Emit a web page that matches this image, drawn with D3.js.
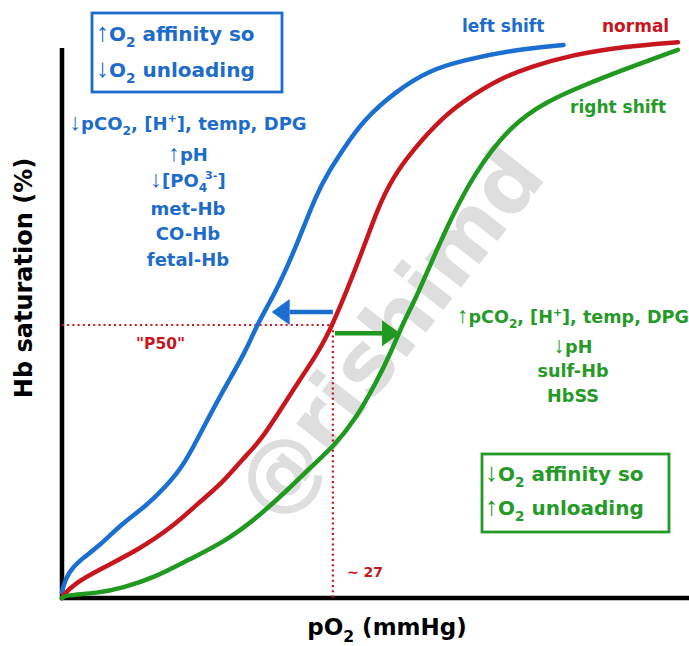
<!DOCTYPE html>
<html><head><meta charset="utf-8">
<script src="https://cdn.jsdelivr.net/npm/d3@7"></script>
<style>body{margin:0;background:#fff}svg{display:block}</style>
</head><body>
<svg id="c" width="689" height="646"></svg>
<script>
// ---- data (pO2 mmHg, Hb saturation %) ----
const leftShiftPO2 = [0,0.1,0.6,1.8,3.6,6.0,8.3,10.3,12.0,13.3,15.8,18.4,19.4,21.3,23.2,25.4,26.7,28.0,30.0,33.4,36.7,40.0,45.0,50.0];
const leftShiftSat = [1,2.0,4.6,7.0,9.3,13.7,16.7,20.3,24.0,28.4,37.2,45.4,50,56,63.7,74.2,78.4,82.1,87.5,93.0,96.7,98.5,100.4,101.3];
const normalPO2 = [0,0.1,1.3,3.6,7.6,11.0,13.6,16.0,17.9,19.9,22.7,25.7,27.0,30.0,31.4,33.0,35.0,37.9,40.5,43.4,46.7,50.9,55.9,61.4];
const normalSat = [0,0.5,2.7,5.1,8.8,13.0,17.4,21.1,25.3,28.9,37.2,45.4,50,63.7,71.1,77.1,82.1,88.0,91.6,94.9,97.3,99.5,101.0,101.8];
const rightShiftPO2 = [0,0.3,3.6,6.0,9.3,12.6,16.0,19.2,22.5,24.7,27.2,29.2,31.2,32.9,33.9,35.2,36.7,38.7,41.0,44.7,48.4,51.6,55.9,61.4];
const rightShiftSat = [0,0.5,0.9,1.8,3.8,7.0,10.1,14.3,19.8,23.8,28.0,32.6,39.0,45.4,50.0,54.6,61.0,69.2,77.5,86.6,91.0,93.6,96.7,100.4];
const curveNames = ["left shift","normal","right shift"];
const p50PO2 = 27, p50Sat = 50;
const leftArrowPO2 = [27.0, 20.9], leftArrowSat = 52.4;
const rightArrowPO2 = [27.2, 33.7], rightArrowSat = 48.5;
const leftFactors = ["↓pCO2, [H+], temp, DPG","↑pH","↓[PO43-]","met-Hb","CO-Hb","fetal-Hb"];
const rightFactors = ["↑pCO2, [H+], temp, DPG","↓pH","sulf-Hb","HbSS"];

const BLUE="#1b6fd0", RED="#c8161f", GREEN="#1f991f", TBLUE="#1d6ccb", TGREEN="#259a27";
const FONT="'DejaVu Sans', sans-serif";

const svg=d3.select("#c");
const x=d3.scaleLinear().domain([0,62.5]).range([62,689]);
const y=d3.scaleLinear().domain([0,100]).range([598,52]);

// watermark
svg.append("text").attr("transform","translate(394,336) rotate(-52)")
  .attr("text-anchor","middle").attr("dominant-baseline","middle")
  .attr("font-family",FONT).attr("font-weight","bold").attr("font-size",84)
  .attr("fill","#dedede").text("@rishimd");

// axes
const xa=svg.append("g").attr("transform","translate(0,598)").call(d3.axisBottom(x).tickValues([]).tickSizeOuter(0));
const ya=svg.append("g").attr("transform","translate(62,0)").call(d3.axisLeft(y).tickValues([]).tickSizeOuter(0));
[xa,ya].forEach(a=>a.select(".domain").attr("stroke","#000").attr("stroke-width",4.5));
xa.select(".domain").attr("d","M60,0H689");
ya.select(".domain").attr("d","M0,48V600");

// P50 dotted guides
const dot={stroke:RED,"stroke-width":2.2,"stroke-dasharray":"2,3.2"};
const g1=svg.append("line").attr("x1",x(0)).attr("x2",x(p50PO2)).attr("y1",y(p50Sat)).attr("y2",y(p50Sat));
const g2=svg.append("line").attr("x1",x(p50PO2)).attr("x2",x(p50PO2)).attr("y1",y(p50Sat)).attr("y2",y(0));
[g1,g2].forEach(l=>Object.entries(dot).forEach(([k,v])=>l.attr(k,v)));

// curves
const line=d3.line().x(d=>x(d[0])).y(d=>y(d[1])).curve(d3.curveBasis);
const series=[[leftShiftPO2,leftShiftSat,BLUE],[normalPO2,normalSat,RED],[rightShiftPO2,rightShiftSat,GREEN]];
series.forEach(([xs,ys,c])=>{
  svg.append("path").datum(xs.map((v,i)=>[v,ys[i]])).attr("d",line)
    .attr("fill","none").attr("stroke",c).attr("stroke-width",4.5).attr("stroke-linecap","round").attr("stroke-linejoin","round");
});

// arrows
function arrow(pos,sat,c){
  const x0=x(pos[0]), x1=x(pos[1]), yy=y(sat), dir=Math.sign(x1-x0), hl=18, hw=13;
  svg.append("line").attr("x1",x0).attr("x2",x1-dir*hl).attr("y1",yy).attr("y2",yy).attr("stroke",c).attr("stroke-width",4.5);
  svg.append("path").attr("d",`M${x1},${yy}L${x1-dir*hl},${yy-hw}L${x1-dir*hl},${yy+hw}Z`).attr("fill",c);
}
arrow(leftArrowPO2,leftArrowSat,BLUE);
arrow(rightArrowPO2,rightArrowSat,GREEN);

// rich text helper
function rich(t,str,size){
  const parts=[];
  const re=/(↑|↓)|(O2)|(O4)|(H\+)|(3-)/g; let last=0,m;
  while((m=re.exec(str))){
    if(m.index>last) parts.push({t:str.slice(last,m.index)});
    if(m[1]) parts.push({t:m[1],arrow:true});
    else if(m[2]) {parts.push({t:"O"});parts.push({t:"2",sub:true});}
    else if(m[3]) {parts.push({t:"O"});parts.push({t:"4",sub:true});}
    else if(m[4]) {parts.push({t:"H"});parts.push({t:"+",sup:true});}
    else if(m[5]) {parts.push({t:"3-",sup:true,back:true});}
    last=re.lastIndex;
  }
  if(last<str.length) parts.push({t:str.slice(last)});
  let shift=0;
  parts.forEach(p=>{
    const ts=t.append("tspan").text(p.t);
    let target=0;
    if(p.sub){ts.attr("font-size",size*0.68);target=size*0.3;}
    if(p.sup){ts.attr("font-size",size*0.62);target=-size*0.42;}
    if(p.back) ts.attr("dx",-size*0.12);
    if(p.arrow){ts.attr("font-family","'Liberation Sans',sans-serif").attr("font-size",size*1.3).attr("font-weight","normal");}
    if(target!==shift){ts.attr("dy",target-shift);shift=target;}
  });
  return shift;
}
function rtext(str,xx,yy,size,fill,anchor){
  const t=svg.append("text").attr("x",xx).attr("y",yy).attr("font-family",FONT).attr("font-weight","bold")
    .attr("font-size",size).attr("fill",fill).attr("text-anchor",anchor||"start");
  rich(t,str,size);
  return t;
}

// boxes
svg.append("rect").attr("x",92).attr("y",13).attr("width",190).attr("height",79).attr("fill","none").attr("stroke",TBLUE).attr("stroke-width",2.8);
rtext("↑O2 affinity so",96,41,20,TBLUE);
rtext("↓O2 unloading",96,77,20,TBLUE);
svg.append("rect").attr("x",482).attr("y",454).attr("width",187).attr("height",78).attr("fill","none").attr("stroke",TGREEN).attr("stroke-width",2.8);
rtext("↓O2 affinity so",485,481,20,TGREEN);
rtext("↑O2 unloading",485,515,20,TGREEN);

// factor lists
const lBase=[130,161,187,215,240,266];
leftFactors.forEach((s,i)=>rtext(s,188,lBase[i],18,TBLUE,"middle"));
const rBase=[323,353,377,402];
rightFactors.forEach((s,i)=>rtext(s,573,rBase[i],17.6,TGREEN,"middle"));

// curve labels
const lab=svg.append("g").attr("font-family",FONT).attr("font-weight","bold").attr("font-size",17);
lab.append("text").attr("x",462).attr("y",32).attr("fill",TBLUE).text(curveNames[0]);
lab.append("text").attr("x",602).attr("y",32).attr("fill",RED).text(curveNames[1]);
lab.append("text").attr("x",570).attr("y",113).attr("fill",TGREEN).text(curveNames[2]);

// P50 labels
svg.append("text").attr("x",136).attr("y",349).attr("font-family",FONT).attr("font-weight","bold").attr("font-size",15.5).attr("fill",RED).text('"P50"');
svg.append("text").attr("x",347).attr("y",577).attr("font-family",FONT).attr("font-weight","bold").attr("font-size",14).attr("fill",RED).text("~ "+p50PO2);

// axis titles
rtext("pO2 (mmHg)",387,635,23,"#000","middle");
svg.append("text").attr("transform","translate(32,278) rotate(-90)").attr("text-anchor","middle")
  .attr("font-family",FONT).attr("font-weight","bold").attr("font-size",24).text("Hb saturation (%)");
</script>
</body></html>
